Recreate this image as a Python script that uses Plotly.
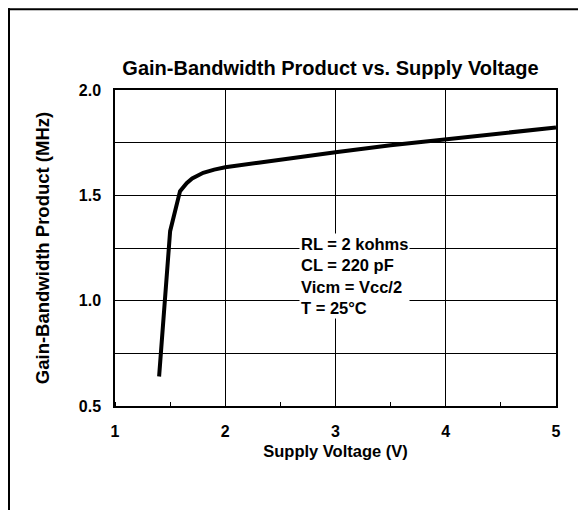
import plotly.graph_objects as go

# Data
supply_voltage = [1.4, 1.5, 1.59, 1.65, 1.7, 1.75, 1.8, 1.9, 2.0, 2.3, 2.5, 3.0, 3.5, 4.0, 4.5, 5.0]
gbw_mhz = [0.64, 1.33, 1.52, 1.558, 1.58, 1.596, 1.607, 1.622, 1.633, 1.655, 1.668, 1.705, 1.738, 1.765, 1.795, 1.822]

x_ticks = [1, 2, 3, 4, 5]
y_ticks = [0.5, 1.0, 1.5, 2.0]
y_tick_text = ["0.5", "1.0", "1.5", "2.0"]

conditions = ["RL = 2 kohms", "CL = 220 pF", "Vicm = Vcc/2", "T = 25°C"]

FONT = "Arial, Liberation Sans, sans-serif"

# plot area in figure pixels (page body adds an 8px offset)
L, R, T, B = 107, 548, 82, 398.5
PW, PH = R - L, B - T

fig = go.Figure()
fig.add_trace(go.Scatter(
    x=supply_voltage, y=gbw_mhz, mode="lines",
    line=dict(color="black", width=4),
    showlegend=False, hoverinfo="skip",
))

fig.update_layout(
    width=586, height=510,
    margin=dict(l=L, r=586 - R, t=T, b=510 - B),
    paper_bgcolor="white", plot_bgcolor="white",
    font=dict(family=FONT, color="black", size=16),
    title=dict(
        text="<b>Gain-Bandwidth Product vs. Supply Voltage</b>",
        font=dict(family=FONT, size=20, color="black"),
        x=322.5 / 586, xanchor="center",
        y=1 - 60 / 510, yanchor="middle", yref="container",
    ),
    xaxis=dict(
        range=[1, 5], tickvals=x_ticks, ticktext=[f"<b>{v}</b>" for v in x_ticks],
        showgrid=True, gridcolor="black", gridwidth=1,
        showline=True, linecolor="black", linewidth=1.5, mirror=True,
        ticks="", ticklabelstandoff=10,
        tickfont=dict(family=FONT, size=16, color="black"),
        minor=dict(dtick=0.5, ticks="inside", ticklen=4, tickcolor="black", showgrid=False),
        zeroline=False,
        title=dict(text="<b>Supply Voltage (V)</b>", font=dict(family=FONT, size=16.5, color="black"), standoff=6),
    ),
    yaxis=dict(
        range=[0.5, 2.0], tickvals=y_ticks, ticktext=[f"<b>{t}</b>" for t in y_tick_text],
        showgrid=True, gridcolor="black", gridwidth=1,
        showline=True, linecolor="black", linewidth=1.5, mirror=True,
        ticks="", ticklabelstandoff=9,
        tickfont=dict(family=FONT, size=16, color="black"),
        minor=dict(dtick=0.25, showgrid=True, gridcolor="black", gridwidth=1, ticks=""),
        zeroline=False,
        title=dict(text="<b>Gain-Bandwidth Product (MHz)</b>", font=dict(family=FONT, size=18.5, color="black"), standoff=24),
    ),
    annotations=[dict(
        text="<b>" + "<br>".join(conditions) + "</b>",
        xref="paper", yref="paper",
        x=(291 - L) / PW, y=(B - 268) / PH,
        xanchor="left", yanchor="middle", align="left",
        showarrow=False, bgcolor="white", borderpad=1,
        font=dict(family=FONT, size=16.5, color="black"),
    )],
    shapes=[
        dict(type="line", xref="paper", yref="paper",
             x0=(0 - L) / PW, x1=(600 - L) / PW,
             y0=(B - 1) / PH, y1=(B - 1) / PH,
             line=dict(color="black", width=2)),
        dict(type="line", xref="paper", yref="paper",
             x0=(1 - L) / PW, x1=(1 - L) / PW,
             y0=(B - 0) / PH, y1=(B - 530) / PH,
             line=dict(color="black", width=2)),
    ],
)

fig.write_html("out.html")
